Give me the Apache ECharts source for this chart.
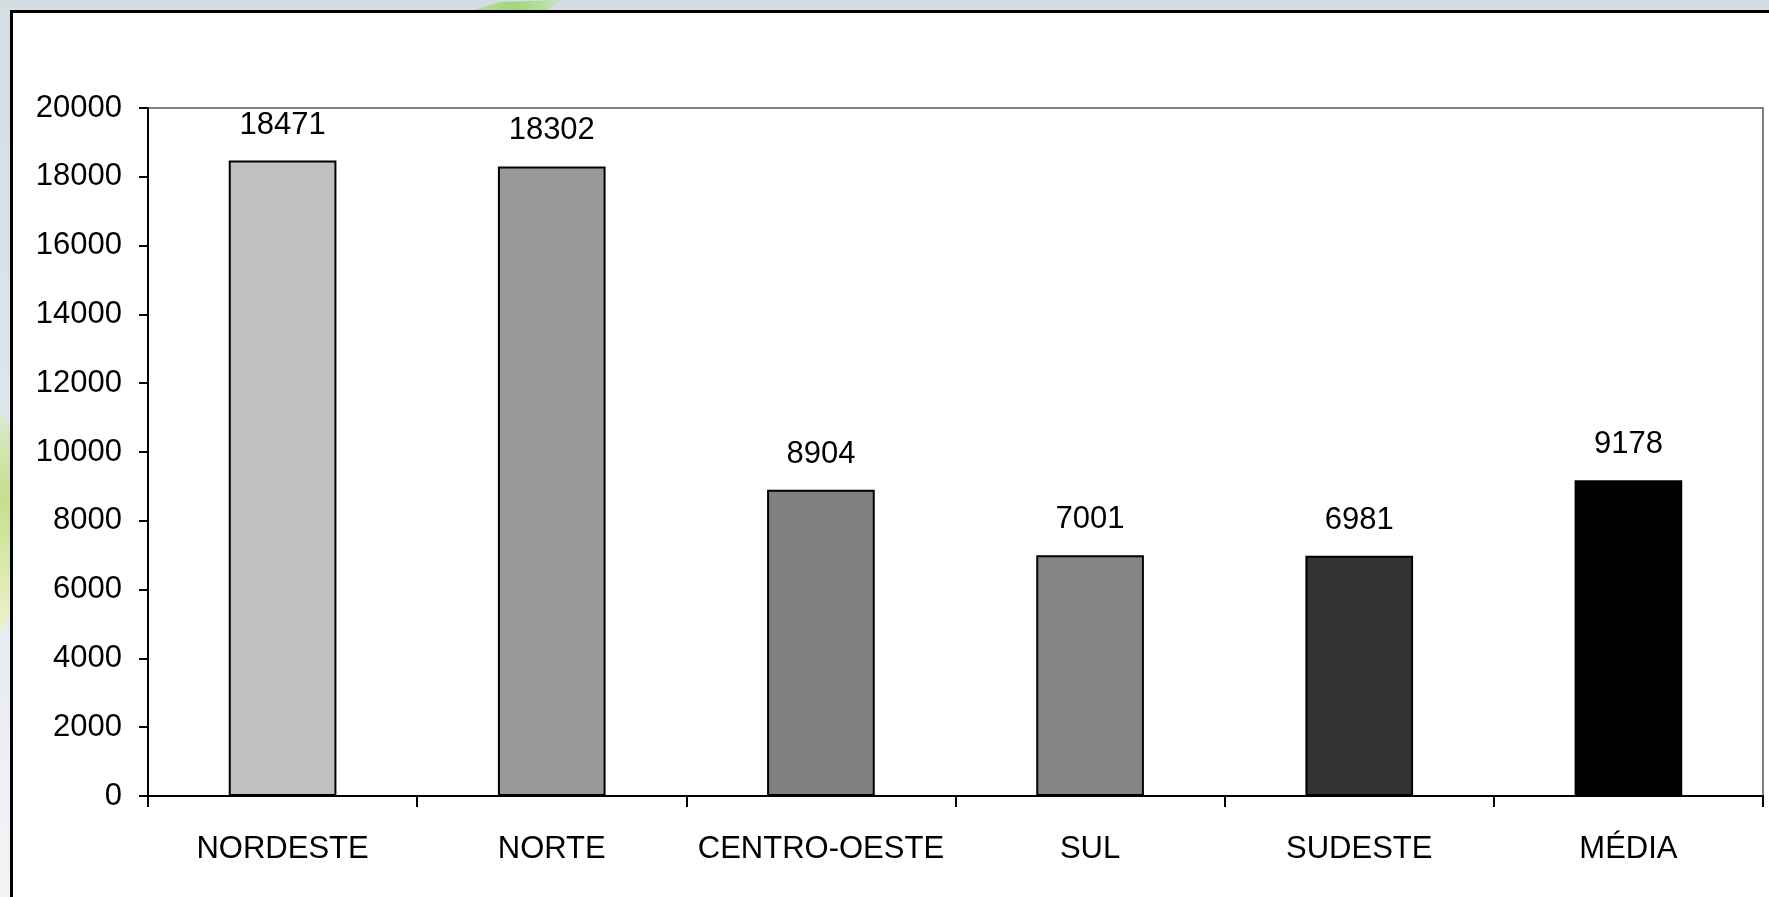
<!DOCTYPE html>
<html>
<head>
<meta charset="utf-8">
<script src="https://cdn.jsdelivr.net/npm/echarts@6/dist/echarts.min.js"></script>
<style>
html,body{margin:0;padding:0;background:#d4e0e4;}
#chart{width:1769px;height:897px;}
</style>
</head>
<body>
<div id="chart"></div>
<script>
const categories = ['NORDESTE', 'NORTE', 'CENTRO-OESTE', 'SUL', 'SUDESTE', 'MÉDIA'];
const values = [18471, 18302, 8904, 7001, 6981, 9178];
const yTicks = { min: 0, max: 20000, interval: 2000 };

const barColors = ['#c0c0c0', '#999999', '#808080', '#858585', '#333333', '#000000'];
const FONT = '"Liberation Sans", Arial, sans-serif';
const FS = 31;

const chart = echarts.init(document.getElementById('chart'), null, { renderer: 'canvas' });

chart.setOption({
  animation: false,
  backgroundColor: 'transparent',
  graphic: [
    { type: 'rect', z: -20, shape: { x: 0, y: 0, width: 1769, height: 897 },
      style: { fill: new echarts.graphic.LinearGradient(0, 0, 0, 1, [
        { offset: 0, color: '#d2dee2' }, { offset: 0.55, color: '#dfe7eb' }, { offset: 1, color: '#f3f4f8' }]) } },
    { type: 'ellipse', z: -19, shape: { cx: -8, cy: 520, rx: 30, ry: 115 },
      style: { fill: new echarts.graphic.LinearGradient(0, 0, 0, 1, [
        { offset: 0, color: '#dfe9d8' }, { offset: 0.4, color: '#c6df8a' }, { offset: 1, color: '#eef3cf' }]) } },
    { type: 'polygon', z: -19, shape: { points: [[468, 12], [500, 2], [560, 0], [545, 12]] },
      style: { fill: new echarts.graphic.LinearGradient(0, 0, 1, 0, [
        { offset: 0, color: '#b9dca0' }, { offset: 0.5, color: '#9fd77e' }, { offset: 1, color: '#c8e2b8' }]) } },
    { type: 'rect', z: -18, shape: { x: 11.5, y: 11.5, width: 1800, height: 1000 },
      style: { fill: '#ffffff', stroke: '#000000', lineWidth: 3 } }
  ],
  grid: {
    left: 148, top: 108, right: 6, bottom: 101,
    show: true, backgroundColor: 'transparent', borderColor: '#808080', borderWidth: 2
  },
  xAxis: {
    type: 'category',
    data: categories,
    z: 5,
    axisLine: { show: true, lineStyle: { color: '#000', width: 2 } },
    axisTick: { show: true, length: 11, interval: 0, lineStyle: { color: '#000', width: 2 } },
    axisLabel: { color: '#000', fontSize: FS, fontFamily: FONT, margin: 38, interval: 0 },
    splitLine: { show: false }
  },
  yAxis: {
    type: 'value',
    min: yTicks.min, max: yTicks.max, interval: yTicks.interval,
    z: 5,
    axisLine: { show: true, lineStyle: { color: '#000', width: 2 } },
    axisTick: { show: true, length: 9, lineStyle: { color: '#000', width: 2 } },
    axisLabel: { color: '#000', fontSize: FS, fontFamily: FONT, margin: 26, formatter: v => String(v) },
    splitLine: { show: false }
  },
  series: [{
    type: 'bar',
    barWidth: '40%',
    data: values.map((v, i) => ({ value: v, itemStyle: { color: barColors[i] } })),
    itemStyle: { borderColor: '#000', borderWidth: 2 },
    label: {
      show: true, position: 'top', distance: 20,
      color: '#000', fontSize: FS, fontFamily: FONT, formatter: p => String(p.value)
    }
  }]
});
</script>
</body>
</html>
